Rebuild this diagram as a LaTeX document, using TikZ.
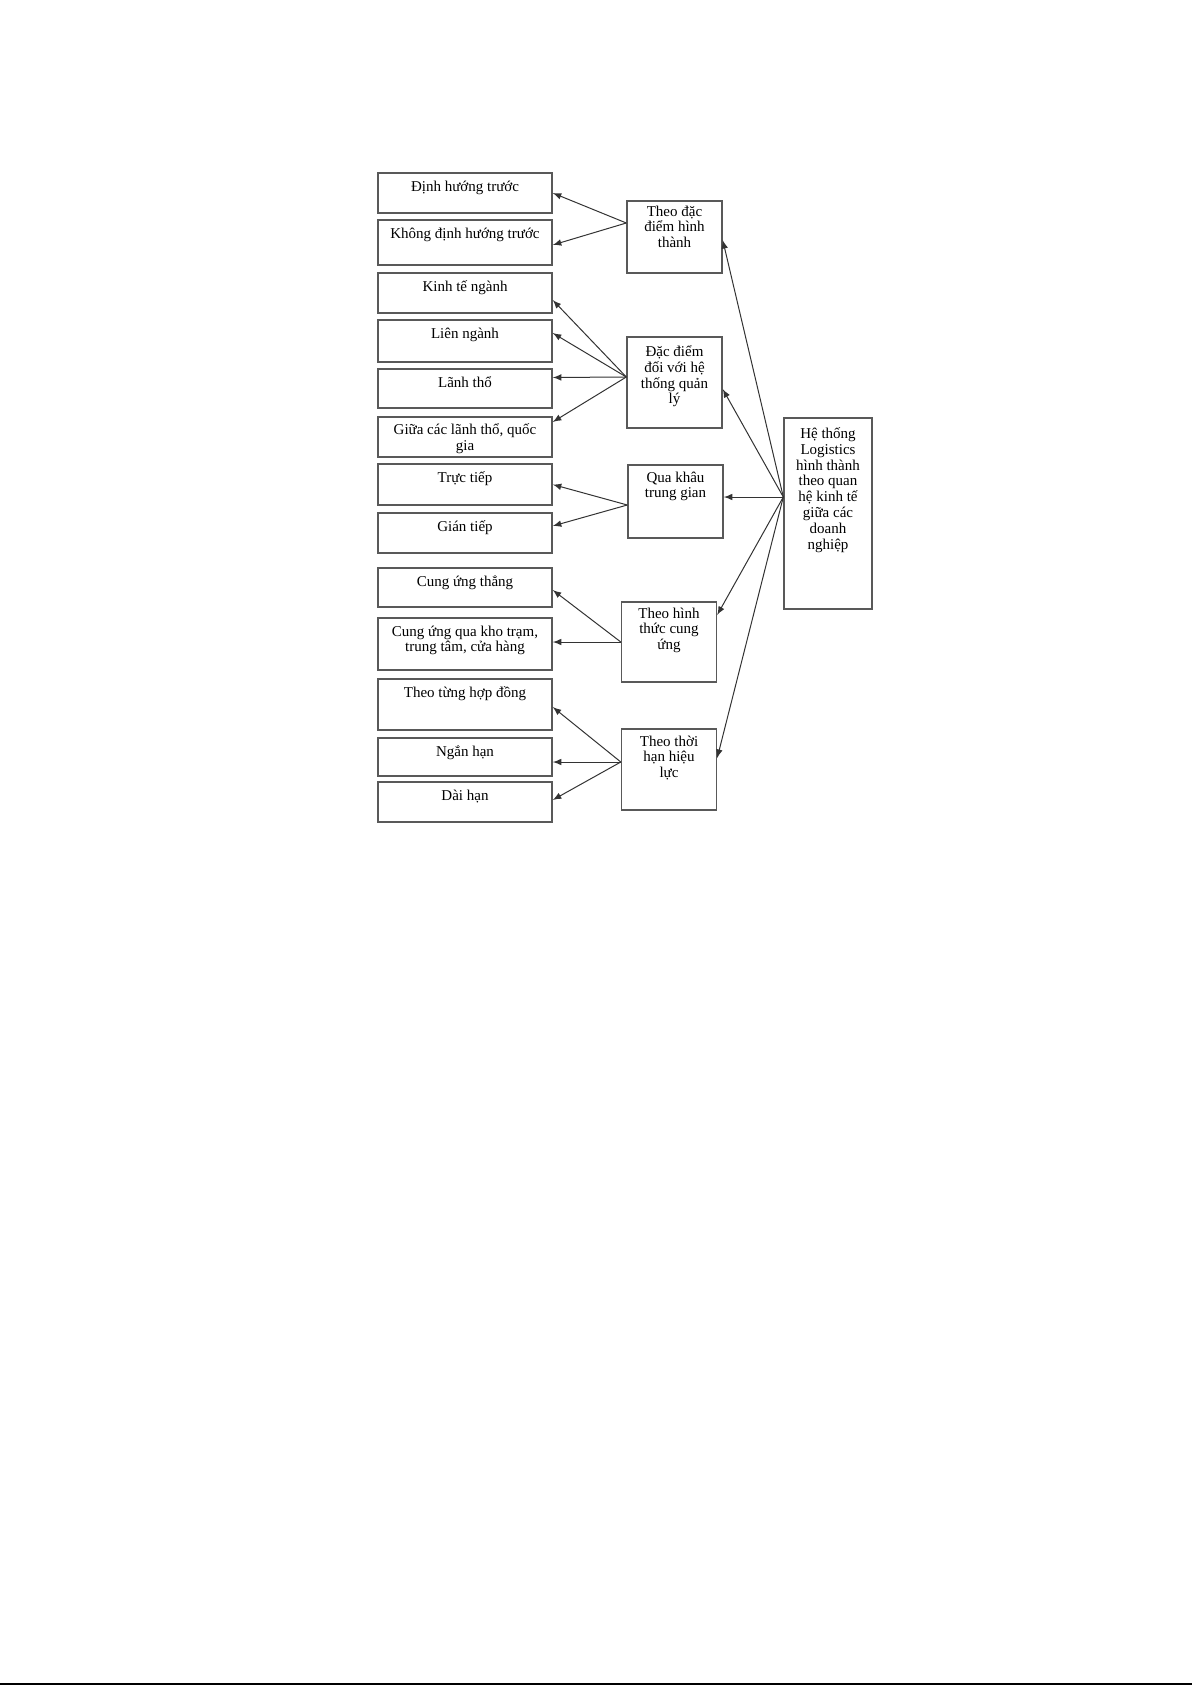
\documentclass[tikz,border=0pt]{standalone}
\usepackage{fontspec}
\setmainfont{Liberation Serif}
\usetikzlibrary{positioning}

\begin{document}
\begin{tikzpicture}[ x=0.5pt, y=-0.5pt, >=latex,
        blk/.style={ draw=black!65, line width=0.7pt, inner sep=0pt },
        lblk/.style={ blk, minimum width=87pt },
        mblk/.style={ blk, minimum width=47.5pt },
        txt/.style={ anchor=north, align=center, inner sep=0pt, font=\fontsize{7.5}{7.9}\selectfont },
        arr/.style={ ->, draw=black!80, line width=0.5pt } ]
            \useasboundingbox ( 0, 0 ) rectangle ( 1192, 1685 );

            % левые блоки
            \node [ lblk, minimum height=20pt ] (b1) at ( 465, 193 ) {};
            \node [ txt, below=4pt of b1.north ] (t1) {Định hướng trước};
            \node [ lblk, minimum height=22.5pt ] (b2) at ( 465, 242.5 ) {};
            \node [ txt, below=4pt of b2.north ] (t2) {Không định hướng trước};
            \node [ lblk, minimum height=20pt ] (b3) at ( 465, 293 ) {};
            \node [ txt, below=4pt of b3.north ] (t3) {Kinh tế ngành};
            \node [ lblk, minimum height=21pt ] (b4) at ( 465, 341 ) {};
            \node [ txt, below=4pt of b4.north ] (t4) {Liên ngành};
            \node [ lblk, minimum height=19.5pt ] (b5) at ( 465, 388.5 ) {};
            \node [ txt, below=4pt of b5.north ] (t5) {Lãnh thổ};
            \node [ lblk, minimum height=20pt ] (b6) at ( 465, 437 ) {};
            \node [ txt, below=3.5pt of b6.north ] (t6) {Giữa các lãnh thổ, quốc\\gia};
            \node [ lblk, minimum height=20.5pt ] (b7) at ( 465, 484.5 ) {};
            \node [ txt, below=4pt of b7.north ] (t7) {Trực tiếp};
            \node [ lblk, minimum height=20pt ] (b8) at ( 465, 533 ) {};
            \node [ txt, below=4pt of b8.north ] (t8) {Gián tiếp};
            \node [ lblk, minimum height=19.5pt ] (b9) at ( 465, 587.5 ) {};
            \node [ txt, below=4pt of b9.north ] (t9) {Cung ứng thẳng};
            \node [ lblk, minimum height=26pt ] (b10) at ( 465, 644 ) {};
            \node [ txt, below=4pt of b10.north ] (t10) {Cung ứng qua kho trạm,\\trung tâm, cửa hàng};
            \node [ lblk, minimum height=25.5pt ] (b11) at ( 465, 704.5 ) {};
            \node [ txt, below=4pt of b11.north ] (t11) {Theo từng hợp đồng};
            \node [ lblk, minimum height=19pt ] (b12) at ( 465, 757 ) {};
            \node [ txt, below=4pt of b12.north ] (t12) {Ngắn hạn};
            \node [ lblk, minimum height=20pt ] (b13) at ( 465, 802 ) {};
            \node [ txt, below=4pt of b13.north ] (t13) {Dài hạn};

            % средние блоки
            \node [ mblk, minimum height=36pt ] (m1) at ( 674.5, 237 ) {};
            \node [ txt, below=2.5pt of m1.north ] (u1) {Theo đặc\\điểm hình\\thành};
            \node [ mblk, minimum height=45.5pt ] (m2) at ( 674.5, 382.5 ) {};
            \node [ txt, below=4.5pt of m2.north ] (u2) {Đặc điểm\\đối với hệ\\thống quản\\lý};
            \node [ mblk, minimum height=36.5pt ] (m3) at ( 675.5, 501.5 ) {};
            \node [ txt, below=3.5pt of m3.north ] (u3) {Qua khâu\\trung gian};
            \node [ mblk, minimum height=40pt ] (m4) at ( 669, 642 ) {};
            \node [ txt, below=3pt of m4.north ] (u4) {Theo hình\\thức cung\\ứng};
            \node [ mblk, minimum height=40.5pt ] (m5) at ( 669, 769.5 ) {};
            \node [ txt, below=3.5pt of m5.north ] (u5) {Theo thời\\hạn hiệu\\lực};

            % правый блок
            \node [ blk, minimum width=44pt, minimum height=95.5pt ] (R) at ( 828, 513.5 ) {};
            \node [ txt, below=5pt of R.north ] (uR) {Hệ thống\\Logistics\\hình thành\\theo quan\\hệ kinh tế\\giữa các\\doanh\\nghiệp};

            % точки выхода стрелок
            \coordinate (r0) at ([yshift=8.25pt]R.west);
            \coordinate (s1) at ([yshift=7pt]m1.west);
            \coordinate (s2) at ([yshift=2.75pt]m2.west);
            \coordinate (s3) at ([yshift=-1.75pt]m3.west);
            \coordinate (s4) at (m4.west);
            \coordinate (s5) at ([yshift=3.75pt]m5.west);

            % стрелки от правого блока
            \draw [ arr ] (r0) -- ([yshift=-1.5pt]m1.east);
            \draw [ arr ] (r0) -- ([yshift=-3.25pt]m2.east);
            \draw [ arr ] (r0) -- (m3.east |- r0);
            \draw [ arr ] (r0) -- ([yshift=13.5pt]m4.east);
            \draw [ arr ] (r0) -- ([yshift=5.75pt]m5.east);

            % стрелки к левым блокам
            \draw [ arr ] (s1) -- (b1.east);
            \draw [ arr ] (s1) -- ([yshift=-1.25pt]b2.east);
            \draw [ arr ] (s2) -- ([yshift=-3.5pt]b3.east);
            \draw [ arr ] (s2) -- ([yshift=4pt]b4.east);
            \draw [ arr ] (s2) -- ([yshift=5.5pt]b5.east);
            \draw [ arr ] (s2) -- ([yshift=7.5pt]b6.east);
            \draw [ arr ] (s3) -- (b7.east);
            \draw [ arr ] (s3) -- ([yshift=3.5pt]b8.east);
            \draw [ arr ] (s4) -- ([yshift=-1.25pt]b9.east);
            \draw [ arr ] (s4) -- (b10.east |- s4);
            \draw [ arr ] (s5) -- ([yshift=-1.25pt]b11.east);
            \draw [ arr ] (s5) -- (b12.east |- s5);
            \draw [ arr ] (s5) -- ([yshift=1pt]b13.east);

            % край страницы
            \draw [ line width=1pt ] ( 0, 1684 ) -- ( 1192, 1684 );
        \end{tikzpicture}
\end{document}
